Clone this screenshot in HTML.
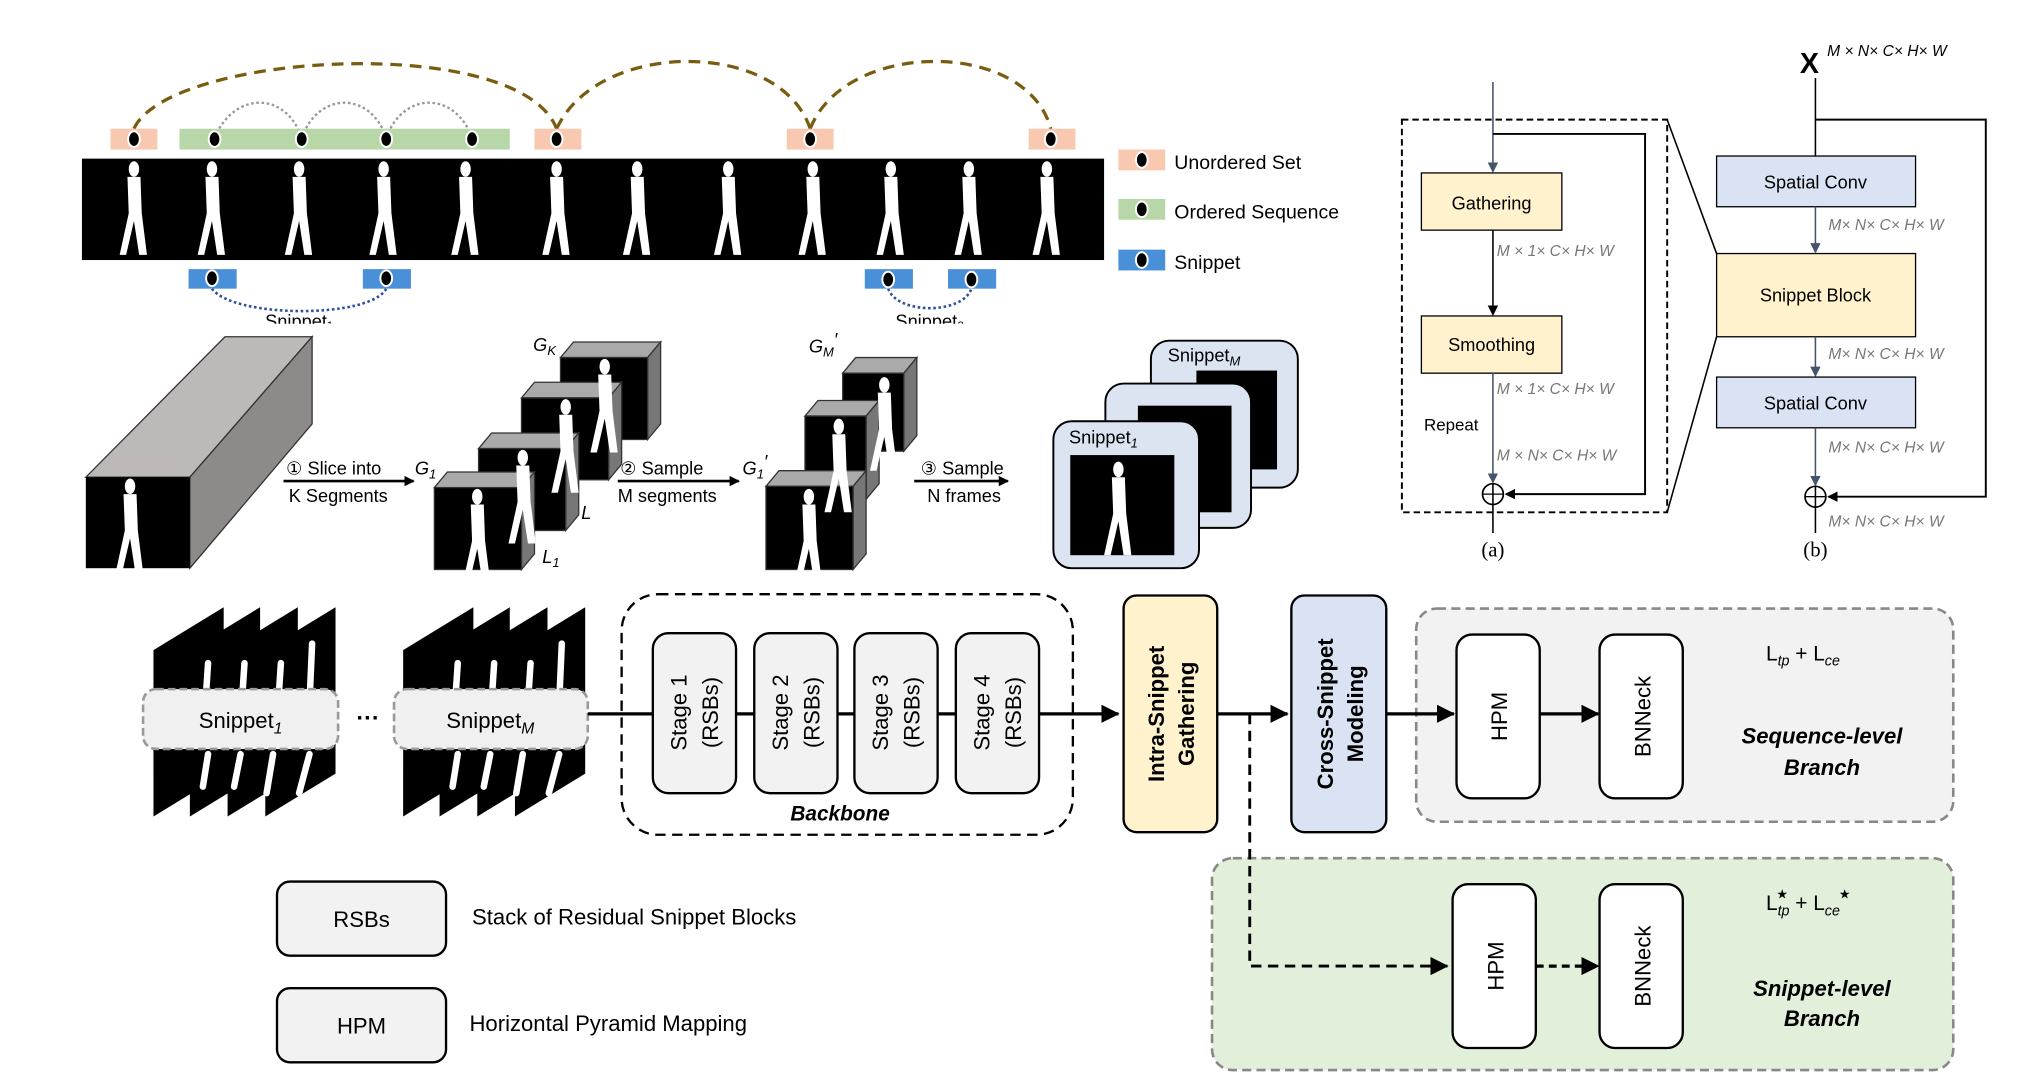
<!DOCTYPE html>
<html><head><meta charset="utf-8"><style>
html,body{margin:0;padding:0;background:#fff;}
svg{display:block;font-family:"Liberation Sans",sans-serif;}
</style></head><body>
<svg width="2017" height="1074" viewBox="0 0 1551 826" preserveAspectRatio="none" xmlns="http://www.w3.org/2000/svg">
<defs>
<marker id="ah" markerWidth="8" markerHeight="8" refX="7" refY="4" orient="auto" markerUnits="userSpaceOnUse"><path d="M0,0 L8,4 L0,8 z" fill="#000"/></marker>
<marker id="ahb" markerWidth="14" markerHeight="14" refX="13" refY="7" orient="auto" markerUnits="userSpaceOnUse"><path d="M0,0 L14,7 L0,14 z" fill="#000"/></marker>
<marker id="ahg" markerWidth="8" markerHeight="8" refX="7" refY="4" orient="auto" markerUnits="userSpaceOnUse"><path d="M0,0 L8,4 L0,8 z" fill="#44546a"/></marker>
<g id="fig"><ellipse cx="0" cy="6" rx="4" ry="6" fill="#fff"/><path d="M-5,12 L5,12 L6,40 L10,72 L4,72 L0,46 L-6,72 L-11,72 L-4,40 z" fill="#fff"/></g>
</defs>

<!-- top band -->
<path d="M103,99 C130,40 400,25 428,99" fill="none" stroke="#7a5c10" stroke-width="2.5" stroke-dasharray="9,6"/>
<path d="M428,99 C460,30 600,30 623,99" fill="none" stroke="#7a5c10" stroke-width="2.5" stroke-dasharray="9,6"/>
<path d="M623,99 C650,30 790,30 808,99" fill="none" stroke="#7a5c10" stroke-width="2.5" stroke-dasharray="9,6"/>
<path d="M165,106 C180,70 220,70 232,106 M232,106 C245,70 285,70 297,106 M297,106 C310,70 350,70 363,106" fill="none" stroke="#999" stroke-width="1.8" stroke-dasharray="2,2"/>
<rect x="85" y="99" width="36" height="16" fill="#f8c8b0"/>
<rect x="411" y="99" width="36" height="16" fill="#f8c8b0"/>
<rect x="605" y="99" width="36" height="16" fill="#f8c8b0"/>
<rect x="791" y="99" width="36" height="16" fill="#f8c8b0"/>
<rect x="138" y="99" width="254" height="16" fill="#b7d7a8"/>
<g fill="#000" stroke="#fff" stroke-width="1.5">
<ellipse cx="103" cy="107" rx="4.5" ry="6"/><ellipse cx="428" cy="107" rx="4.5" ry="6"/><ellipse cx="623" cy="107" rx="4.5" ry="6"/><ellipse cx="808" cy="107" rx="4.5" ry="6"/>
<ellipse cx="165" cy="107" rx="4.5" ry="6"/><ellipse cx="232" cy="107" rx="4.5" ry="6"/><ellipse cx="297" cy="107" rx="4.5" ry="6"/><ellipse cx="363" cy="107" rx="4.5" ry="6"/>
</g>
<rect x="63" y="122" width="786" height="78" fill="#000"/>
<g transform="translate(0,124)">
<use href="#fig" x="103"/><use href="#fig" x="163"/><use href="#fig" x="230"/><use href="#fig" x="295"/><use href="#fig" x="358"/><use href="#fig" x="428"/><use href="#fig" x="490"/><use href="#fig" x="560"/><use href="#fig" x="625"/><use href="#fig" x="685"/><use href="#fig" x="745"/><use href="#fig" x="805"/>
</g>
<path d="M163,222 C180,245 285,245 297,222" fill="none" stroke="#2f4f9f" stroke-width="2" stroke-dasharray="2,2"/>
<path d="M683,222 C690,242 740,242 747,222" fill="none" stroke="#2f4f9f" stroke-width="2" stroke-dasharray="2,2"/>
<rect x="145" y="207" width="37" height="15" fill="#4a90d9"/><rect x="279" y="207" width="37" height="15" fill="#4a90d9"/>
<rect x="665" y="207" width="37" height="15" fill="#4a90d9"/><rect x="729" y="207" width="37" height="15" fill="#4a90d9"/>
<g fill="#000" stroke="#fff" stroke-width="1.5">
<ellipse cx="163" cy="214" rx="4.5" ry="6"/><ellipse cx="297" cy="214" rx="4.5" ry="6"/><ellipse cx="683" cy="215" rx="4.5" ry="6"/><ellipse cx="747" cy="215" rx="4.5" ry="6"/>
</g>
<text x="230" y="252" font-size="14" text-anchor="middle">Snippet₁</text>
<text x="715" y="252" font-size="14" text-anchor="middle">Snippet₂</text>
<rect x="0" y="249" width="900" height="8" fill="#fff"/>
<!-- legend top -->
<rect x="860" y="115" width="36" height="16" fill="#f8c8b0"/><ellipse cx="878" cy="123" rx="4.5" ry="6" stroke="#fff" stroke-width="1.5"/>
<rect x="860" y="153" width="36" height="16" fill="#b7d7a8"/><ellipse cx="878" cy="161" rx="4.5" ry="6" stroke="#fff" stroke-width="1.5"/>
<rect x="860" y="192" width="36" height="16" fill="#4a90d9"/><ellipse cx="878" cy="200" rx="4.5" ry="6" stroke="#fff" stroke-width="1.5"/>
<text x="903" y="130" font-size="15">Unordered Set</text>
<text x="903" y="168" font-size="15">Ordered Sequence</text>
<text x="903" y="207" font-size="15">Snippet</text>

<!-- prism -->
<polygon points="66,367 173,259 240,259 146,367" fill="#bdb9b9" stroke="#333"/>
<polygon points="146,367 240,259 240,326 146,437" fill="#8d8a89" stroke="#333"/>
<rect x="66" y="367" width="80" height="70" fill="#000"/>
<use href="#fig" x="100" y="368" transform="translate(0,0)"/>
<!-- arrows -->
<line x1="218" y1="370" x2="318" y2="370" stroke="#000" stroke-width="2" marker-end="url(#ah)"/>
<text x="220" y="365" font-size="14">① Slice into</text><text x="222" y="386" font-size="14">K Segments</text>
<text x="319" y="365" font-size="14" font-style="italic">G<tspan font-size="10" dy="3">1</tspan></text>
<line x1="475" y1="370" x2="568" y2="370" stroke="#000" stroke-width="2" marker-end="url(#ah)"/>
<text x="477" y="365" font-size="14">② Sample</text><text x="475" y="386" font-size="14">M segments</text>
<text x="571" y="365" font-size="14" font-style="italic">G<tspan font-size="10" dy="3">1</tspan><tspan dy="-8">′</tspan></text>
<line x1="703" y1="370" x2="775" y2="370" stroke="#000" stroke-width="2" marker-end="url(#ah)"/>
<text x="708" y="365" font-size="14">③ Sample</text><text x="713" y="386" font-size="14">N frames</text>
<!-- cubes group 1 -->
<g id="cube">
</g>
<g stroke="#333" stroke-width="1">
<polygon points="431,275 441,263 508,263 498,275" fill="#aaa"/><polygon points="498,275 508,263 508,326 498,338" fill="#777"/><rect x="431" y="275" width="67" height="63" fill="#000"/>
<polygon points="401,306 411,294 478,294 468,306" fill="#aaa"/><polygon points="468,306 478,294 478,357 468,369" fill="#777"/><rect x="401" y="306" width="67" height="63" fill="#000"/>
<polygon points="368,345 378,333 445,333 435,345" fill="#aaa"/><polygon points="435,345 445,333 445,396 435,408" fill="#777"/><rect x="368" y="345" width="67" height="63" fill="#000"/>
<polygon points="334,375 344,363 411,363 401,375" fill="#aaa"/><polygon points="401,375 411,363 411,426 401,438" fill="#777"/><rect x="334" y="375" width="67" height="63" fill="#000"/>
<polygon points="648,287 658,275 705,275 695,287" fill="#aaa"/><polygon points="695,287 705,275 705,335 695,347" fill="#777"/><rect x="648" y="287" width="47" height="60" fill="#000"/>
<polygon points="619,320 629,308 676,308 666,320" fill="#aaa"/><polygon points="666,320 676,308 676,372 666,384" fill="#777"/><rect x="619" y="320" width="47" height="64" fill="#000"/>
<polygon points="589,374 599,362 666,362 656,374" fill="#aaa"/><polygon points="656,374 666,362 666,426 656,438" fill="#777"/><rect x="589" y="374" width="67" height="64" fill="#000"/>
</g>
<g transform="scale(1)">
<use href="#fig" x="465" y="276" transform="translate(0,0)"/>
<use href="#fig" x="435" y="307"/><use href="#fig" x="402" y="346"/><use href="#fig" x="367" y="376"/>
<use href="#fig" x="680" y="290"/><use href="#fig" x="645" y="322"/><use href="#fig" x="622" y="376"/>
</g>
<text x="410" y="270" font-size="14" font-style="italic">G<tspan font-size="10" dy="3">K</tspan></text>
<text x="447" y="399" font-size="14" font-style="italic">L</text>
<text x="417" y="433" font-size="14" font-style="italic">L<tspan font-size="10" dy="3">1</tspan></text>
<text x="622" y="271" font-size="14" font-style="italic">G<tspan font-size="10" dy="3">M</tspan><tspan dy="-8">′</tspan></text>
<!-- snippet cards -->
<rect x="885" y="262" width="113" height="113" rx="14" fill="#dce4f2" stroke="#000" stroke-width="1.5"/>
<rect x="920" y="285" width="62" height="76" fill="#000"/>
<text x="898" y="278" font-size="14">Snippet<tspan font-size="10" dy="3" font-style="italic">M</tspan></text>
<rect x="850" y="295" width="112" height="111" rx="14" fill="#dce4f2" stroke="#000" stroke-width="1.5"/>
<rect x="875" y="312" width="72" height="82" fill="#000"/>
<rect x="810" y="324" width="112" height="113" rx="14" fill="#dce4f2" stroke="#000" stroke-width="1.5"/>
<rect x="823" y="350" width="80" height="77" fill="#000"/>
<use href="#fig" x="860" y="355"/>
<text x="822" y="341" font-size="14">Snippet<tspan font-size="10" dy="3" font-style="italic">1</tspan></text>

<!-- (a) -->
<rect x="1078" y="92" width="204" height="302" fill="none" stroke="#000" stroke-width="1.5" stroke-dasharray="5,3"/>
<line x1="1148" y1="63" x2="1148" y2="132" stroke="#44546a" stroke-width="1.2" marker-end="url(#ahg)"/>
<polyline points="1148,103 1265,103 1265,380 1158,380" fill="none" stroke="#000" stroke-width="1.5" marker-end="url(#ah)"/>
<rect x="1093" y="133" width="108" height="44" fill="#fff2cc" stroke="#000"/>
<text x="1147" y="161" font-size="14" text-anchor="middle">Gathering</text>
<line x1="1148" y1="177" x2="1148" y2="242" stroke="#000" stroke-width="1.2" marker-end="url(#ah)"/>
<rect x="1093" y="243" width="108" height="44" fill="#fff2cc" stroke="#000"/>
<text x="1147" y="270" font-size="14" text-anchor="middle">Smoothing</text>
<line x1="1148" y1="287" x2="1148" y2="371" stroke="#44546a" stroke-width="1.2" marker-end="url(#ahg)"/>
<circle cx="1148" cy="380" r="8" fill="none" stroke="#000" stroke-width="1.3"/>
<line x1="1140" y1="380" x2="1156" y2="380" stroke="#000"/><line x1="1148" y1="372" x2="1148" y2="410" stroke="#000" stroke-width="1.2"/>
<g fill="#777" font-size="12" font-style="italic">
<text x="1151" y="197">M × 1× C× H× W</text>
<text x="1151" y="303">M × 1× C× H× W</text>
<text x="1151" y="354">M × N× C× H× W</text>
<text x="1406" y="177">M× N× C× H× W</text>
<text x="1406" y="276">M× N× C× H× W</text>
<text x="1406" y="348">M× N× C× H× W</text>
<text x="1406" y="405">M× N× C× H× W</text>
</g>
<text x="1095" y="331" font-size="13">Repeat</text>
<text x="1148" y="428" font-size="16" text-anchor="middle" font-family="Liberation Serif,serif">(a)</text>
<!-- (b) -->
<line x1="1282" y1="92" x2="1320" y2="195" stroke="#000" stroke-width="1.2"/>
<line x1="1282" y1="394" x2="1320" y2="259" stroke="#000" stroke-width="1.2"/>
<text x="1384" y="56" font-size="22" font-weight="bold">X</text>
<text x="1405" y="43" font-size="12" font-style="italic">M × N× C× H× W</text>
<line x1="1396" y1="60" x2="1396" y2="120" stroke="#000" stroke-width="1.2"/>
<polyline points="1396,92 1527,92 1527,382 1406,382" fill="none" stroke="#000" stroke-width="1.5" marker-end="url(#ah)"/>
<rect x="1320" y="120" width="153" height="39" fill="#dae3f3" stroke="#000"/>
<text x="1396" y="145" font-size="14" text-anchor="middle">Spatial Conv</text>
<line x1="1396" y1="159" x2="1396" y2="194" stroke="#44546a" stroke-width="1.2" marker-end="url(#ahg)"/>
<rect x="1320" y="195" width="153" height="64" fill="#fff2cc" stroke="#000"/>
<text x="1396" y="232" font-size="14" text-anchor="middle">Snippet Block</text>
<line x1="1396" y1="259" x2="1396" y2="289" stroke="#44546a" stroke-width="1.2" marker-end="url(#ahg)"/>
<rect x="1320" y="290" width="153" height="39" fill="#dae3f3" stroke="#000"/>
<text x="1396" y="315" font-size="14" text-anchor="middle">Spatial Conv</text>
<line x1="1396" y1="329" x2="1396" y2="373" stroke="#44546a" stroke-width="1.2" marker-end="url(#ahg)"/>
<circle cx="1396" cy="382" r="8" fill="none" stroke="#000" stroke-width="1.3"/>
<line x1="1388" y1="382" x2="1404" y2="382" stroke="#000"/><line x1="1396" y1="374" x2="1396" y2="410" stroke="#000" stroke-width="1.2"/>
<text x="1396" y="428" font-size="16" text-anchor="middle" font-family="Liberation Serif,serif">(b)</text>

<!-- bottom snippet stacks -->
<g fill="#000">
<polygon points="118,500 172,467 172,595 118,628"/><polygon points="146,500 200,467 200,595 146,628"/><polygon points="175,500 229,467 229,595 175,628"/><polygon points="204,500 258,467 258,595 204,628"/>
<polygon points="310,500 364,467 364,595 310,628"/><polygon points="338,500 392,467 392,595 338,628"/><polygon points="367,500 421,467 421,595 367,628"/><polygon points="396,500 450,467 450,595 396,628"/>
</g>
<g fill="none" stroke="#fff" stroke-width="5" stroke-linecap="round">
<path d="M160,510 L158,540 M188,510 L186,540 M216,510 L214,540 M240,495 L238,540 M160,580 L156,605 M185,580 L180,605 M210,580 L205,610 M238,580 L230,610"/>
<path d="M352,510 L350,540 M380,510 L378,540 M408,510 L406,540 M432,495 L430,540 M352,580 L348,605 M377,580 L372,605 M402,580 L397,610 M430,580 L422,610"/>
</g>
<rect x="110" y="530" width="150" height="46" rx="10" fill="#f0f0f0" stroke="#999" stroke-width="2" stroke-dasharray="6,3"/>
<text x="185" y="560" font-size="17" text-anchor="middle">Snippet<tspan font-size="12" dy="4" font-style="italic">1</tspan></text>
<text x="283" y="558" font-size="18" text-anchor="middle" font-weight="bold">···</text>
<rect x="303" y="530" width="149" height="46" rx="10" fill="#f0f0f0" stroke="#999" stroke-width="2" stroke-dasharray="6,3"/>
<text x="377" y="560" font-size="17" text-anchor="middle">Snippet<tspan font-size="12" dy="4" font-style="italic">M</tspan></text>
<!-- backbone -->
<rect x="478" y="457" width="347" height="185" rx="28" fill="none" stroke="#000" stroke-width="1.8" stroke-dasharray="8,5"/>
<line x1="452" y1="549" x2="860" y2="549" stroke="#000" stroke-width="2.5" marker-end="url(#ahb)"/>
<g fill="#f2f2f2" stroke="#000" stroke-width="1.8">
<rect x="502" y="487" width="64" height="123" rx="12"/><rect x="580" y="487" width="64" height="123" rx="12"/><rect x="657" y="487" width="64" height="123" rx="12"/><rect x="735" y="487" width="64" height="123" rx="12"/>
</g>
<g font-size="17" text-anchor="middle">
<text transform="translate(528,548) rotate(-90)">Stage 1</text><text transform="translate(552,548) rotate(-90)">(RSBs)</text>
<text transform="translate(606,548) rotate(-90)">Stage 2</text><text transform="translate(630,548) rotate(-90)">(RSBs)</text>
<text transform="translate(683,548) rotate(-90)">Stage 3</text><text transform="translate(707,548) rotate(-90)">(RSBs)</text>
<text transform="translate(761,548) rotate(-90)">Stage 4</text><text transform="translate(785,548) rotate(-90)">(RSBs)</text>
</g>
<text x="646" y="631" font-size="16" font-weight="bold" font-style="italic" text-anchor="middle">Backbone</text>
<rect x="864" y="458" width="72" height="182" rx="10" fill="#fff2cc" stroke="#000" stroke-width="1.8"/>
<text transform="translate(895,549) rotate(-90)" font-size="17" font-weight="bold" text-anchor="middle">Intra-Snippet</text>
<text transform="translate(918,549) rotate(-90)" font-size="17" font-weight="bold" text-anchor="middle">Gathering</text>
<line x1="936" y1="549" x2="990" y2="549" stroke="#000" stroke-width="2.5" marker-end="url(#ahb)"/>
<rect x="993" y="458" width="73" height="182" rx="10" fill="#dae3f3" stroke="#000" stroke-width="1.8"/>
<text transform="translate(1025,549) rotate(-90)" font-size="17" font-weight="bold" text-anchor="middle">Cross-Snippet</text>
<text transform="translate(1048,549) rotate(-90)" font-size="17" font-weight="bold" text-anchor="middle">Modeling</text>
<!-- seq branch -->
<rect x="1089" y="468" width="413" height="164" rx="16" fill="#f2f2f2" stroke="#888" stroke-width="2" stroke-dasharray="7,4"/>
<line x1="1066" y1="549" x2="1118" y2="549" stroke="#000" stroke-width="2.5" marker-end="url(#ahb)"/>
<rect x="1120" y="488" width="64" height="126" rx="12" fill="#fff" stroke="#000" stroke-width="1.8"/>
<line x1="1184" y1="549" x2="1229" y2="549" stroke="#000" stroke-width="2.5" marker-end="url(#ahb)"/>
<rect x="1230" y="488" width="64" height="126" rx="12" fill="#fff" stroke="#000" stroke-width="1.8"/>
<text transform="translate(1159,551) rotate(-90)" font-size="17" text-anchor="middle">HPM</text>
<text transform="translate(1269,551) rotate(-90)" font-size="17" text-anchor="middle">BNNeck</text>
<text x="1358" y="508" font-size="16">L<tspan font-size="11" dy="4" font-style="italic">tp</tspan><tspan dy="-4"> + L</tspan><tspan font-size="11" dy="4" font-style="italic">ce</tspan></text>
<text x="1401" y="572" font-size="17" font-weight="bold" font-style="italic" text-anchor="middle">Sequence-level</text>
<text x="1401" y="596" font-size="17" font-weight="bold" font-style="italic" text-anchor="middle">Branch</text>
<!-- snippet branch -->
<rect x="932" y="660" width="570" height="163" rx="16" fill="#e2efda" stroke="#888" stroke-width="2" stroke-dasharray="7,4"/>
<polyline points="961,549 961,743 1113,743" fill="none" stroke="#000" stroke-width="2.2" stroke-dasharray="8,5" marker-end="url(#ahb)"/>
<rect x="1117" y="680" width="64" height="126" rx="12" fill="#fff" stroke="#000" stroke-width="1.8"/>
<line x1="1181" y1="743" x2="1229" y2="743" stroke="#000" stroke-width="2.5" stroke-dasharray="6,4" marker-end="url(#ahb)"/>
<rect x="1230" y="680" width="64" height="126" rx="12" fill="#fff" stroke="#000" stroke-width="1.8"/>
<text transform="translate(1156,743) rotate(-90)" font-size="17" text-anchor="middle">HPM</text>
<text transform="translate(1269,743) rotate(-90)" font-size="17" text-anchor="middle">BNNeck</text>
<text x="1358" y="700" font-size="16">L<tspan font-size="11" dy="4" font-style="italic">tp</tspan><tspan dy="-4"> + L</tspan><tspan font-size="11" dy="4" font-style="italic">ce</tspan></text>
<text x="1366" y="691" font-size="10">★</text><text x="1414" y="691" font-size="10">★</text>
<text x="1401" y="766" font-size="17" font-weight="bold" font-style="italic" text-anchor="middle">Snippet-level</text>
<text x="1401" y="789" font-size="17" font-weight="bold" font-style="italic" text-anchor="middle">Branch</text>
<!-- legend bottom -->
<rect x="213" y="678" width="130" height="57" rx="10" fill="#f2f2f2" stroke="#000" stroke-width="1.8"/>
<text x="278" y="713" font-size="17" text-anchor="middle">RSBs</text>
<text x="363" y="711" font-size="17">Stack of Residual Snippet Blocks</text>
<rect x="213" y="760" width="130" height="57" rx="10" fill="#f2f2f2" stroke="#000" stroke-width="1.8"/>
<text x="278" y="795" font-size="17" text-anchor="middle">HPM</text>
<text x="361" y="793" font-size="17">Horizontal Pyramid Mapping</text>
</svg>
</body></html>
